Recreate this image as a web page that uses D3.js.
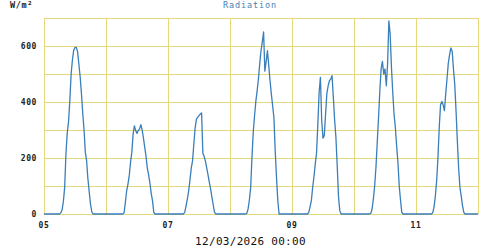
<!DOCTYPE html>
<html><head><meta charset="utf-8">
<script src="https://cdn.jsdelivr.net/npm/d3@7"></script>
<style>html,body{margin:0;padding:0;background:#fff;}svg{display:block;}</style>
</head><body>
<script>
// Half-hourly radiation values (W/m²), 48 per day starting 00:00
const day05 = [0,0,0,0,0,0,0,0,0,0,0,0,0, 4,15,45,95,215,290,330,405,500,550,585,595,595,580,535,490,430,360,300,220,190,125,80,35,8, 0,0,0,0,0,0,0,0,0,0];
const day06 = [0,0,0,0,0,0,0,0,0,0,0,0,0,0, 4,42,83,107,137,185,220,286,315,298,288,298,304,319,300,271,238,205,164,140,110,74,48,6, 0,0,0,0,0,0,0,0,0,0];
const day07 = [0,0,0,0,0,0,0,0,0,0,0,0,0, 7,30,54,83,121,164,190,250,307,339,345,351,357,361,217,205,188,164,140,113,89,60,33,7, 0,0,0,0,0,0,0,0,0,0,0];
const day08 = [0,0,0,0,0,0,0,0,0,0,0,0,0, 2,18,50,95,202,292,351,402,440,482,536,583,615,650,510,545,583,530,476,429,387,345,226,131,48, 0,0,0,0,0,0,0,0,0,0];
const day09 = [0,0,0,0,0,0,0,0,0,0,0,0,0, 6,26,48,95,133,179,217,321,435,488,333,271,280,357,431,458,476,482,494,417,336,274,173,62,12, 0,0,0,0,0,0,0,0,0,0];
const day10 = [0,0,0,0,0,0,0,0,0,0,0,0,0, 2,18,54,101,167,256,345,440,518,545,500,518,458,536,690,643,524,435,357,310,244,185,101,50,6, 0,0,0,0,0,0,0,0,0,0];
const day11 = [0,0,0,0,0,0,0,0,0,0,0,0,0, 5,26,65,119,202,310,390,402,390,369,429,482,538,569,593,581,518,464,369,262,164,95,65,30,6, 0,0,0,0,0,0,0,0,0,0];
const days = [5, 6, 7, 8, 9, 10, 11];
const dayValues = [day05, day06, day07, day08, day09, day10, day11];
const yGridValues = [0, 100, 200, 300, 400, 500, 600, 700];
const yTickLabels = [0, 200, 400, 600];
const xTickLabels = ["05", "07", "09", "11"];
const title = "Radiation";
const unitLabel = "W/m²";
const dateLabel = "12/03/2026 00:00";

const W = 500, H = 250;
const svg = d3.select("body").append("svg").attr("width", W).attr("height", H);

const t0 = Date.UTC(2026, 2, 5), t1 = Date.UTC(2026, 2, 12);
const x = d3.scaleUtc().domain([new Date(t0), new Date(t1)]).range([44, 478]);
const y = d3.scaleLinear().domain([0, 700]).range([214, 18]);

const data = [];
days.forEach((d, i) => {
  dayValues[i].forEach((v, k) => {
    data.push({t: new Date(Date.UTC(2026, 2, d) + k * 1800000), v});
  });
});
data.push({t: new Date(t1), v: 0});

const grid = "#e6d97c";
const g = svg.append("g").attr("shape-rendering", "crispEdges");
g.selectAll("line.h").data(yGridValues).join("line")
  .attr("x1", 44).attr("x2", 478)
  .attr("y1", d => Math.round(y(d)) + 0.5).attr("y2", d => Math.round(y(d)) + 0.5)
  .attr("stroke", grid).attr("stroke-width", 1);
const dayTicks = d3.utcDay.range(new Date(t0), new Date(t1 + 1));
g.selectAll("line.v").data(dayTicks).join("line")
  .attr("y1", 18).attr("y2", 214)
  .attr("x1", d => Math.round(x(d)) + 0.5).attr("x2", d => Math.round(x(d)) + 0.5)
  .attr("stroke", grid).attr("stroke-width", 1);

const line = d3.line().x(d => x(d.t)).y(d => y(d.v));
svg.append("path").datum(data).attr("d", line)
  .attr("fill", "none").attr("stroke", "#3a7eba").attr("stroke-width", 1.3)
  .attr("stroke-linejoin", "round");

const font = "'DejaVu Sans Mono', monospace";
// y labels
svg.selectAll("text.yl").data(yTickLabels).join("text")
  .attr("x", 37).attr("y", d => y(d) + 3)
  .attr("text-anchor", "end").attr("font-family", font).attr("font-size", 8)
  .attr("font-weight", "bold").attr("letter-spacing", 0.6).attr("fill", "#222")
  .text(d => d);
// x labels
const xLabelDates = xTickLabels.map(s => new Date(Date.UTC(2026, 2, +s)));
svg.selectAll("text.xl").data(xLabelDates).join("text")
  .attr("x", d => x(d)).attr("y", 227.5)
  .attr("text-anchor", "middle").attr("font-family", font).attr("font-size", 8)
  .attr("font-weight", "bold").attr("letter-spacing", 0.6).attr("fill", "#222")
  .text((d, i) => xTickLabels[i]);

svg.append("text").attr("x", 250).attr("y", 8)
  .attr("text-anchor", "middle").attr("font-family", font).attr("font-size", 8.5)
  .attr("letter-spacing", 0.9).attr("fill", "#4682b4").text(title);
svg.append("text").attr("x", 10).attr("y", 8)
  .attr("font-family", font).attr("font-size", 8.5).attr("font-weight", "bold")
  .attr("letter-spacing", 0.6).attr("fill", "#222").text(unitLabel);
svg.append("text").attr("x", 250.5).attr("y", 245)
  .attr("text-anchor", "middle").attr("font-family", font).attr("font-size", 11)
  .attr("letter-spacing", 0.3).attr("fill", "#111").text(dateLabel);
</script>
</body></html>
